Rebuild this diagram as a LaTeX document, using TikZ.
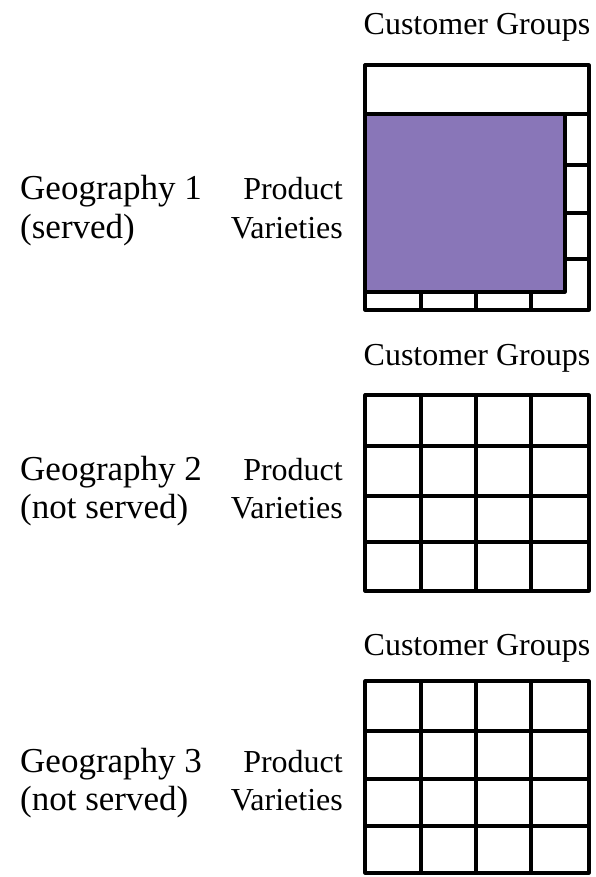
\documentclass[tikz,border=0pt]{standalone}
\usepackage{fontspec}
\setmainfont{Liberation Serif}
\definecolor{served}{RGB}{137,118,184}

\tikzset{
  lbl/.style={font=\fontsize{32}{38}\selectfont, inner sep=0pt},
  geo/.style={font=\fontsize{35}{38}\selectfont, inner sep=0pt, anchor=base west},
  cell/.style={line width=3.2pt, line join=round, line cap=round},
}

\begin{document}
\begin{tikzpicture}[x=1pt, y=-1pt]
	\useasboundingbox[fill=white] (0,0) rectangle (595,877);

	% Geography 1: served market, one segment filled
	\node[lbl, anchor=base] (cg1) at (477,35) {Customer Groups};
	\node[geo] (geo1) at (20,200) {Geography 1};
	\node[geo] (geo1s) at (20,238) {(served)};
	\node[lbl, anchor=base east] (pv1) at (343,200) {Product};
	\node[lbl, anchor=base east] (pv1s) at (343,238) {Varieties};
	\draw[cell] (365,65) rectangle (589,310);
	\draw[cell] (365,114) -- (589,114);
	\foreach \y in {165,213,259}
	  \draw[cell] (565,\y) -- (589,\y);
	\foreach \x in {421,476,531}
	  \draw[cell] (\x,292) -- (\x,310);
	\draw[cell, fill=served] (365,114) rectangle (565,292);

	% Geography 2: not served
	\node[lbl, anchor=base] (cg2) at (477,365) {Customer Groups};
	\node[geo] (geo2) at (20,480) {Geography 2};
	\node[geo] (geo2s) at (20,518) {(not served)};
	\node[lbl, anchor=base east] (pv2) at (343,480) {Product};
	\node[lbl, anchor=base east] (pv2s) at (343,518) {Varieties};
	\draw[cell] (365,395) rectangle (589,591);
	\foreach \y in {446,496,542}
	  \draw[cell] (365,\y) -- (589,\y);
	\foreach \x in {421,476,531}
	  \draw[cell] (\x,395) -- (\x,591);

	% Geography 3: not served
	\node[lbl, anchor=base] (cg3) at (477,655) {Customer Groups};
	\node[geo] (geo3) at (20,772) {Geography 3};
	\node[geo] (geo3s) at (20,810) {(not served)};
	\node[lbl, anchor=base east] (pv3) at (343,772) {Product};
	\node[lbl, anchor=base east] (pv3s) at (343,810) {Varieties};
	\draw[cell] (365,681) rectangle (589,873);
	\foreach \y in {731,779,826}
	  \draw[cell] (365,\y) -- (589,\y);
	\foreach \x in {421,476,531}
	  \draw[cell] (\x,681) -- (\x,873);
\end{tikzpicture}
\end{document}
